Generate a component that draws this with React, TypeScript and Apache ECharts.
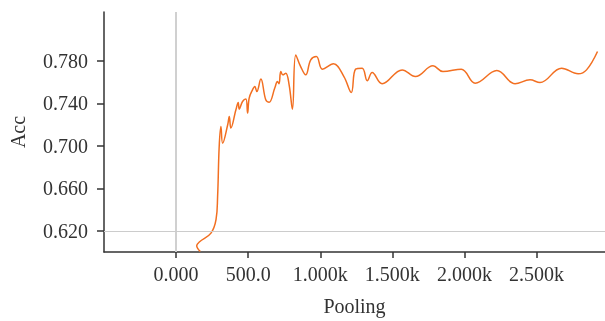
import React, { useEffect, useRef } from "react";
import * as echarts from "echarts";

const poolingX = [168, 143, 161, 242, 277, 288, 299, 311, 323, 358, 369, 380, 415, 431, 438, 461, 484, 496, 507, 530, 546, 560, 588, 622, 645, 685, 703, 714, 726, 740, 761, 784, 807, 830, 864, 899, 934, 973, 1015, 1091, 1164, 1215, 1245, 1291, 1326, 1360, 1429, 1568, 1660, 1782, 1851, 1978, 2075, 2225, 2351, 2455, 2524, 2674, 2789, 2847, 2923];
const accY = [0.6005, 0.6059, 0.6094, 0.6178, 0.6304, 0.6523, 0.6993, 0.7182, 0.7025, 0.7198, 0.7276, 0.7167, 0.7339, 0.7408, 0.7345, 0.7417, 0.744, 0.7308, 0.7449, 0.7527, 0.7558, 0.7511, 0.7628, 0.7433, 0.7409, 0.7546, 0.7605, 0.7584, 0.7699, 0.7668, 0.7684, 0.7574, 0.7345, 0.7856, 0.7746, 0.7668, 0.7809, 0.784, 0.7722, 0.7772, 0.7652, 0.7502, 0.7722, 0.7731, 0.7612, 0.769, 0.7584, 0.7715, 0.7652, 0.7753, 0.7699, 0.7722, 0.759, 0.7709, 0.7584, 0.7621, 0.7596, 0.7731, 0.7678, 0.7715, 0.7888];

const xTickValues = [0, 500, 1000, 1500, 2000, 2500];
const xTickLabels = ["0.000", "500.0", "1.000k", "1.500k", "2.000k", "2.500k"];
const yTickValues = [0.62, 0.66, 0.7, 0.74, 0.78];
const yTickLabels = ["0.620", "0.660", "0.700", "0.740", "0.780"];

const FONT = "Liberation Serif";
const TEXT = "#333333";

export default function App() {
  const ref = useRef<HTMLDivElement>(null);
  useEffect(() => {
    if (!ref.current) return;
    const chart = echarts.init(ref.current, undefined, { renderer: "svg" });
    const data = poolingX.map((x, i) => [x, accY[i]]);
    const fmt = (vals: number[], labels: string[]) => (v: number) => {
      const i = vals.findIndex((t) => Math.abs(t - v) < 1e-6);
      return i >= 0 ? labels[i] : "";
    };
    chart.setOption({
      animation: false,
      grid: { left: 102, top: 12, right: 0, bottom: 69, containLabel: false },
      xAxis: {
        type: "value",
        min: -500,
        max: 2975,
        name: "Pooling",
        nameLocation: "middle",
        nameGap: 44,
        nameTextStyle: { fontFamily: FONT, fontSize: 20, color: TEXT },
        axisLine: { show: true, onZero: false, lineStyle: { color: TEXT, width: 1.5 } },
        axisTick: { show: true, customValues: xTickValues, length: 6, lineStyle: { color: TEXT, width: 1.5 } },
        axisLabel: {
          customValues: xTickValues,
          formatter: fmt(xTickValues, xTickLabels),
          fontFamily: FONT,
          fontSize: 20,
          color: TEXT,
          margin: 12,
        },
        splitLine: { show: false },
      },
      yAxis: {
        type: "value",
        min: 0.6,
        max: 0.826,
        name: "Acc",
        nameLocation: "middle",
        nameGap: 76,
        nameTextStyle: { fontFamily: FONT, fontSize: 20, color: TEXT },
        axisLine: { show: true, onZero: false, lineStyle: { color: TEXT, width: 1.5 } },
        axisTick: { show: true, customValues: yTickValues, length: 7, lineStyle: { color: TEXT, width: 1.5 } },
        axisLabel: {
          customValues: yTickValues,
          formatter: fmt(yTickValues, yTickLabels),
          fontFamily: FONT,
          fontSize: 20,
          color: TEXT,
          margin: 16,
        },
        splitLine: { show: false },
      },
      series: [
        {
          type: "line",
          data,
          smooth: 0.4,
          showSymbol: false,
          symbol: "none",
          lineStyle: { color: "#f26f21", width: 1.5 },
          markLine: {
            silent: true,
            symbol: "none",
            label: { show: false },
            data: [
              { xAxis: 0, lineStyle: { color: "#d0d0d0", width: 2, type: "solid" } },
              { yAxis: 0.62, lineStyle: { color: "#cccccc", width: 1, type: "solid" } },
            ],
          },
        },
      ],
    });
    return () => chart.dispose();
  }, []);
  return <div ref={ref} style={{ position: "fixed", left: 0, top: 0, width: 605, height: 321 }} />;
}
